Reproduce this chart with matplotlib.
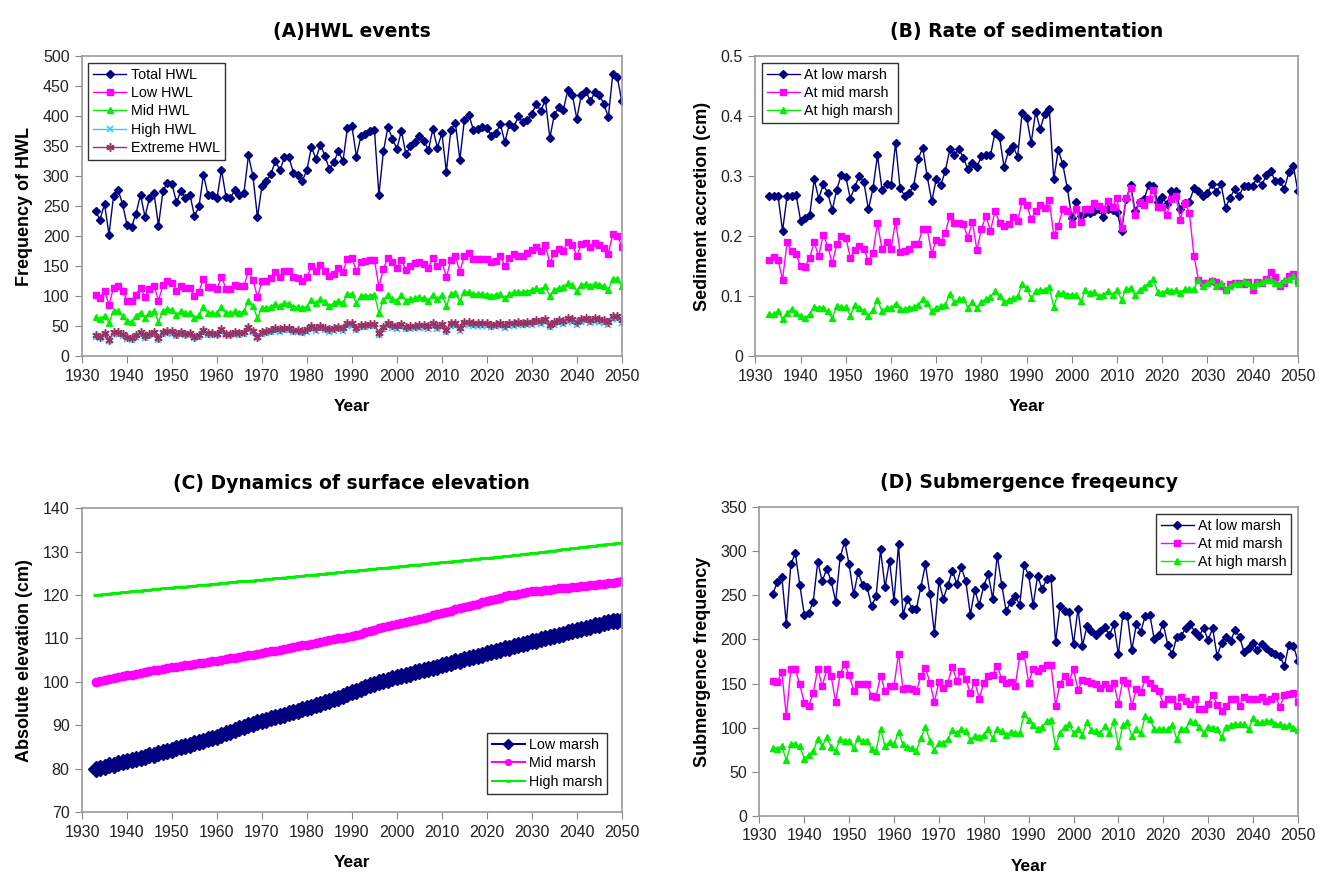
import matplotlib
matplotlib.use("Agg")
import matplotlib.pyplot as plt

plt.rcParams['font.family'] = ['Liberation Sans', 'DejaVu Sans']

years = list(range(1933, 2051))

# (A) HWL events
total_hwl = [242, 228, 254, 203, 267, 278, 254, 219, 215, 238,
             269, 233, 264, 272, 218, 276, 289, 287, 257, 276,
             264, 269, 234, 250, 303, 269, 269, 264, 311, 266,
             264, 278, 269, 273, 335, 300, 232, 284, 293, 304,
             326, 310, 332, 332, 306, 303, 293, 311, 349, 329,
             353, 334, 312, 324, 342, 325, 381, 384, 333, 367,
             371, 375, 378, 269, 342, 382, 363, 346, 376, 337,
             350, 357, 367, 359, 344, 379, 348, 372, 308, 378,
             389, 328, 394, 402, 378, 379, 382, 381, 368, 372,
             387, 357, 387, 382, 400, 390, 394, 404, 421, 409,
             428, 364, 403, 415, 411, 444, 436, 396, 436, 443,
             425, 441, 436, 421, 399, 471, 465, 425]
low_hwl = [103, 97, 109, 86, 114, 118, 109, 93, 92, 103,
           114, 99, 113, 118, 93, 119, 125, 123, 109, 117,
           114, 114, 100, 108, 129, 115, 115, 112, 132, 113,
           113, 119, 117, 117, 143, 128, 99, 125, 125, 131,
           140, 133, 142, 142, 132, 131, 125, 132, 150, 143,
           152, 142, 134, 137, 147, 141, 163, 164, 142, 158,
           159, 160, 161, 116, 146, 164, 158, 147, 161, 144,
           150, 156, 158, 154, 147, 164, 150, 158, 132, 161,
           167, 141, 168, 172, 163, 163, 163, 163, 157, 159,
           167, 151, 164, 171, 168, 168, 172, 178, 183, 176,
           185, 156, 173, 179, 176, 191, 185, 168, 187, 189,
           183, 189, 186, 181, 171, 204, 201, 183]
mid_hwl = [66, 62, 68, 56, 75, 76, 68, 59, 58, 67,
           73, 64, 73, 75, 58, 75, 79, 78, 69, 75,
           72, 72, 64, 69, 82, 73, 72, 72, 83, 72,
           72, 75, 73, 75, 93, 84, 64, 81, 81, 83,
           87, 84, 89, 88, 83, 82, 81, 83, 94, 89,
           96, 91, 84, 89, 93, 89, 104, 104, 89, 101,
           101, 101, 103, 72, 94, 103, 96, 93, 102, 93,
           96, 97, 99, 97, 93, 103, 96, 102, 84, 104,
           106, 92, 108, 107, 104, 104, 104, 103, 100, 103,
           104, 97, 104, 107, 108, 107, 108, 111, 114, 111,
           117, 100, 111, 114, 115, 122, 119, 109, 119, 121,
           118, 121, 119, 117, 111, 129, 129, 117]
high_hwl = [33, 30, 35, 26, 37, 38, 34, 29, 28, 32,
            37, 31, 35, 37, 28, 37, 39, 38, 34, 37,
            35, 36, 30, 33, 40, 36, 36, 35, 41, 35,
            35, 37, 36, 37, 45, 40, 31, 38, 39, 40,
            43, 41, 44, 44, 40, 40, 39, 41, 46, 43,
            47, 44, 41, 43, 45, 43, 50, 51, 44, 49,
            49, 50, 50, 36, 45, 50, 48, 46, 50, 45,
            46, 47, 48, 47, 46, 51, 46, 49, 40, 50,
            51, 43, 52, 53, 50, 51, 51, 51, 49, 50,
            51, 48, 51, 51, 53, 52, 52, 53, 56, 54,
            57, 49, 53, 55, 54, 58, 57, 52, 58, 59,
            56, 58, 58, 56, 53, 62, 62, 56]
extreme_hwl = [36, 33, 39, 28, 40, 41, 37, 32, 31, 35,
               40, 34, 38, 40, 31, 40, 42, 42, 37, 40,
               38, 39, 33, 36, 44, 39, 39, 38, 45, 38,
               38, 40, 39, 40, 49, 43, 33, 41, 42, 44,
               47, 45, 48, 48, 44, 44, 42, 45, 50, 47,
               51, 48, 45, 47, 49, 47, 55, 55, 48, 53,
               53, 54, 54, 39, 49, 55, 52, 50, 54, 49,
               50, 51, 53, 52, 50, 55, 50, 54, 44, 55,
               56, 47, 57, 58, 55, 55, 55, 55, 53, 54,
               56, 52, 56, 55, 58, 56, 57, 58, 61, 59,
               62, 53, 58, 60, 59, 64, 63, 57, 63, 64,
               61, 64, 63, 61, 58, 68, 67, 61]

# (B) Rate of sedimentation (cm)
sed_low = [.267, .267, .267, .209, .267, .267, .269, .226, .231, .235,
           .295, .263, .287, .272, .244, .278, .303, .299, .263, .283,
           .301, .290, .245, .280, .335, .278, .287, .285, .356, .280,
           .268, .272, .284, .329, .348, .300, .259, .295, .285, .309,
           .345, .335, .346, .331, .312, .323, .316, .334, .335, .335,
           .373, .365, .316, .342, .350, .333, .406, .398, .356, .408,
           .379, .404, .413, .295, .344, .320, .280, .231, .258, .234,
           .239, .239, .243, .245, .232, .245, .244, .241, .209, .262,
           .285, .243, .258, .262, .286, .284, .258, .266, .254, .275,
           .275, .245, .255, .258, .280, .276, .267, .272, .288, .274,
           .287, .248, .264, .279, .267, .284, .284, .284, .298, .285,
           .302, .309, .292, .292, .279, .307, .318, .275]
sed_mid = [.161, .166, .161, .128, .190, .175, .170, .150, .149, .164,
           .190, .167, .203, .183, .155, .187, .200, .198, .164, .178,
           .184, .179, .159, .173, .222, .179, .190, .179, .226, .174,
           .175, .179, .188, .188, .212, .212, .171, .194, .191, .206,
           .234, .223, .222, .220, .198, .224, .177, .213, .234, .209,
           .242, .223, .217, .220, .232, .225, .259, .253, .229, .242,
           .253, .248, .260, .202, .218, .245, .243, .220, .245, .224,
           .245, .246, .256, .251, .246, .259, .249, .264, .214, .264,
           .281, .236, .257, .252, .263, .277, .249, .249, .236, .262,
           .267, .228, .256, .239, .168, .128, .122, .122, .126, .124,
           .118, .111, .120, .122, .122, .121, .124, .110, .124, .122,
           .129, .140, .133, .117, .122, .134, .138, .125]
sed_high = [.070, .070, .075, .062, .073, .079, .072, .067, .064, .070,
            .082, .081, .081, .075, .064, .084, .082, .082, .068, .085,
            .081, .076, .067, .077, .094, .075, .081, .080, .088, .079,
            .079, .081, .082, .086, .095, .089, .075, .081, .084, .086,
            .104, .090, .095, .095, .081, .090, .081, .090, .096, .099,
            .109, .100, .091, .094, .097, .100, .120, .114, .097, .109,
            .111, .111, .116, .082, .106, .105, .103, .103, .103, .092,
            .110, .106, .107, .101, .103, .109, .103, .110, .094, .112,
            .114, .102, .111, .116, .122, .129, .107, .106, .110, .109,
            .110, .106, .112, .112, .112, .128, .118, .122, .127, .117,
            .122, .110, .117, .122, .121, .125, .122, .117, .122, .124,
            .128, .128, .122, .121, .127, .129, .134, .122]

# (C) Absolute elevation (cm)
elev_low = [80.0, 80.3, 80.5, 80.8, 81.0, 81.3, 81.5, 81.8, 82.0, 82.3,
            82.6, 82.8, 83.1, 83.3, 83.6, 83.9, 84.1, 84.4, 84.7, 85.0,
            85.3, 85.6, 85.9, 86.2, 86.5, 86.8, 87.1, 87.4, 87.8, 88.2,
            88.5, 88.9, 89.3, 89.7, 90.0, 90.4, 90.7, 91.0, 91.3, 91.6,
            91.9, 92.2, 92.5, 92.8, 93.1, 93.4, 93.7, 94.0, 94.3, 94.7,
            95.0, 95.4, 95.7, 96.1, 96.4, 96.8, 97.2, 97.6, 98.0, 98.4,
            98.8, 99.2, 99.6, 99.9, 100.2, 100.5, 100.8, 101.1, 101.3, 101.6,
            101.9, 102.2, 102.4, 102.7, 103.0, 103.3, 103.5, 103.8, 104.1, 104.4,
            104.7, 104.9, 105.2, 105.5, 105.8, 106.0, 106.3, 106.6, 106.9, 107.1,
            107.4, 107.7, 107.9, 108.2, 108.5, 108.7, 109.0, 109.3, 109.5, 109.8,
            110.1, 110.3, 110.6, 110.9, 111.1, 111.4, 111.7, 111.9, 112.2, 112.5,
            112.7, 113.0, 113.2, 113.5, 113.7, 113.9, 114.1, 114.3]
elev_mid = [100.0, 100.2, 100.4, 100.6, 100.9, 101.1, 101.3, 101.5, 101.7, 101.9,
            102.1, 102.3, 102.5, 102.7, 102.8, 103.0, 103.2, 103.4, 103.5, 103.7,
            103.8, 104.0, 104.1, 104.3, 104.4, 104.6, 104.7, 104.9, 105.1, 105.2,
            105.4, 105.6, 105.7, 105.9, 106.1, 106.3, 106.4, 106.6, 106.8, 107.0,
            107.2, 107.4, 107.6, 107.8, 108.0, 108.2, 108.4, 108.6, 108.8, 109.0,
            109.2, 109.4, 109.6, 109.8, 110.0, 110.1, 110.3, 110.5, 110.8, 111.1,
            111.4, 111.7, 112.0, 112.3, 112.6, 112.9, 113.2, 113.4, 113.6, 113.8,
            114.0, 114.3, 114.5, 114.8, 115.0, 115.3, 115.6, 115.8, 116.1, 116.4,
            116.7, 117.0, 117.2, 117.5, 117.8, 118.0, 118.3, 118.6, 118.9, 119.1,
            119.4, 119.7, 119.9, 120.1, 120.3, 120.4, 120.6, 120.8, 120.9, 121.0,
            121.1, 121.2, 121.3, 121.5, 121.6, 121.7, 121.8, 121.9, 122.0, 122.1,
            122.3, 122.4, 122.5, 122.6, 122.7, 122.8, 123.0, 123.1]
elev_high = [120.0, 120.1, 120.2, 120.3, 120.4, 120.5, 120.6, 120.7, 120.8, 120.9,
             121.0, 121.1, 121.2, 121.3, 121.4, 121.5, 121.6, 121.7, 121.8, 121.9,
             121.9, 122.0, 122.1, 122.2, 122.3, 122.4, 122.5, 122.6, 122.7, 122.8,
             122.9, 123.0, 123.1, 123.2, 123.2, 123.3, 123.4, 123.5, 123.6, 123.7,
             123.8, 123.9, 124.0, 124.1, 124.2, 124.3, 124.4, 124.5, 124.6, 124.7,
             124.8, 124.9, 125.0, 125.1, 125.2, 125.3, 125.4, 125.5, 125.6, 125.7,
             125.8, 125.9, 126.0, 126.1, 126.2, 126.3, 126.4, 126.5, 126.6, 126.7,
             126.8, 126.9, 127.0, 127.1, 127.2, 127.3, 127.4, 127.5, 127.6, 127.7,
             127.8, 127.9, 128.0, 128.1, 128.2, 128.3, 128.4, 128.5, 128.6, 128.7,
             128.8, 128.9, 129.0, 129.1, 129.2, 129.4, 129.5, 129.6, 129.7, 129.8,
             130.0, 130.1, 130.2, 130.3, 130.5, 130.6, 130.7, 130.8, 131.0, 131.1,
             131.2, 131.3, 131.5, 131.6, 131.7, 131.8, 131.9, 132.0]

# (D) Submergence frequency
sub_low = [252, 265, 271, 218, 285, 298, 262, 228, 230, 243,
           288, 266, 280, 266, 243, 293, 311, 285, 251, 276,
           262, 259, 238, 249, 302, 259, 289, 244, 308, 228,
           246, 235, 235, 260, 285, 251, 207, 266, 246, 262,
           278, 263, 282, 266, 228, 256, 239, 261, 274, 246,
           295, 262, 232, 243, 249, 239, 284, 273, 239, 272,
           257, 268, 270, 197, 238, 232, 231, 195, 235, 193,
           215, 210, 205, 210, 214, 205, 217, 183, 228, 227,
           188, 217, 209, 227, 228, 200, 205, 218, 194, 183,
           203, 204, 213, 217, 209, 204, 213, 199, 213, 181,
           196, 203, 198, 211, 203, 186, 190, 196, 188, 195,
           190, 186, 183, 181, 170, 194, 193, 176]
sub_mid = [153, 152, 163, 113, 166, 166, 149, 128, 125, 139,
           167, 147, 166, 158, 129, 161, 172, 160, 142, 150,
           150, 149, 136, 135, 159, 141, 147, 147, 184, 144,
           145, 144, 141, 159, 168, 151, 129, 152, 145, 151,
           169, 153, 164, 155, 139, 152, 133, 151, 158, 160,
           170, 155, 151, 152, 147, 181, 183, 151, 167, 164,
           168, 171, 171, 125, 150, 159, 152, 166, 143, 154,
           153, 151, 149, 145, 150, 145, 151, 127, 154, 151,
           124, 144, 140, 155, 151, 145, 142, 127, 132, 132,
           124, 135, 130, 127, 132, 121, 121, 127, 137, 126,
           119, 124, 132, 132, 125, 135, 132, 132, 132, 135,
           130, 132, 136, 123, 137, 138, 139, 129]
sub_high = [77, 76, 79, 63, 81, 81, 79, 65, 69, 73,
            87, 79, 89, 78, 74, 87, 85, 85, 77, 88,
            85, 85, 76, 74, 98, 79, 84, 81, 95, 81,
            78, 77, 74, 88, 101, 85, 75, 83, 83, 87,
            97, 94, 98, 96, 86, 91, 89, 92, 98, 88,
            99, 96, 92, 95, 94, 94, 115, 109, 103, 98,
            101, 107, 109, 79, 94, 101, 104, 94, 98, 92,
            106, 97, 96, 94, 102, 94, 107, 79, 103, 106,
            90, 98, 94, 113, 110, 98, 98, 98, 98, 103,
            87, 98, 99, 107, 106, 101, 94, 101, 100, 98,
            89, 101, 103, 104, 104, 104, 98, 111, 106, 106,
            107, 108, 104, 104, 102, 103, 100, 97]

navy = '#000080'
magenta = '#FF00FF'
green = '#00EE00'
cyan = '#33CCFF'
purple = '#993366'

fig = plt.figure(figsize=(13.23, 8.82), dpi=100)
axA = fig.add_axes([0.062, 0.596, 0.408, 0.340])
axB = fig.add_axes([0.571, 0.596, 0.410, 0.340])
axC = fig.add_axes([0.062, 0.079, 0.408, 0.345])
axD = fig.add_axes([0.574, 0.075, 0.407, 0.350])


def style(ax, title, ylabel, ylim, yticks, ylabels=None):
    ax.set_xlim(1930, 2050)
    ax.set_xticks(range(1930, 2051, 10))
    ax.set_ylim(*ylim)
    ax.set_yticks(yticks)
    if ylabels is not None:
        ax.set_yticklabels(ylabels)
    for s in ax.spines.values():
        s.set_color('#999999')
        s.set_linewidth(1.2)
    ax.tick_params(direction='out', length=5, color='#888888', labelsize=11.5,
                   labelcolor='#222222', pad=4)
    ax.set_title(title, fontsize=13.5, fontweight='bold', pad=14,
                 family='DejaVu Sans')
    ax.set_xlabel('Year', fontsize=12.5, fontweight='bold', labelpad=11)
    ax.set_ylabel(ylabel, fontsize=13, fontweight='bold', labelpad=7)


def legend(ax, loc, anchor=None, mscale=1.0):
    leg = ax.legend(loc=loc, bbox_to_anchor=anchor, fontsize=10.3, frameon=True,
                    fancybox=False, edgecolor='#333333', framealpha=1,
                    handlelength=2.3, labelspacing=0.3, borderpad=0.35,
                    handletextpad=0.3, borderaxespad=0.45, markerscale=mscale)
    leg.get_frame().set_linewidth(1)


# A
axA.plot(years, total_hwl, color=navy, lw=1, marker='D', ms=4.5, label='Total HWL')
axA.plot(years, low_hwl, color=magenta, lw=1, marker='s', ms=5, label='Low HWL')
axA.plot(years, mid_hwl, color=green, lw=1, marker='^', ms=5, label='Mid HWL')
axA.plot(years, high_hwl, color=cyan, lw=1, marker='x', ms=5, mew=1.2, label='High HWL')
axA.plot(years, extreme_hwl, color=purple, lw=1, marker=(6, 2, 0), ms=6, mew=1.1,
         label='Extreme HWL')
style(axA, '(A)HWL events', 'Frequency of HWL', (0, 500), range(0, 501, 50))
legend(axA, 'upper left')

# B
axB.plot(years, sed_low, color=navy, lw=1, marker='D', ms=4.5, label='At low marsh')
axB.plot(years, sed_mid, color=magenta, lw=1, marker='s', ms=5, label='At mid marsh')
axB.plot(years, sed_high, color=green, lw=1, marker='^', ms=5, label='At high marsh')
style(axB, '(B) Rate of sedimentation', 'Sediment accretion (cm)', (0, 0.5),
      [0, 0.1, 0.2, 0.3, 0.4, 0.5], ['0', '0.1', '0.2', '0.3', '0.4', '0.5'])
legend(axB, 'upper left')

# C
axC.plot(years, elev_low, color=navy, lw=1.5, marker='D', ms=8, label='Low marsh')
axC.plot(years, elev_mid, color=magenta, lw=1.5, marker='o', ms=6, label='Mid marsh')
axC.plot(years, elev_high, color=green, lw=1.5, marker='_', ms=5, mew=2, label='High marsh')
style(axC, '(C) Dynamics of surface elevation', 'Absolute elevation (cm)', (70, 140),
      range(70, 141, 10))
legend(axC, 'lower right', (0.985, 0.04), mscale=0.7)

# D
axD.plot(years, sub_low, color=navy, lw=1, marker='D', ms=4.5, label='At low marsh')
axD.plot(years, sub_mid, color=magenta, lw=1, marker='s', ms=5, label='At mid marsh')
axD.plot(years, sub_high, color=green, lw=1, marker='^', ms=5, label='At high marsh')
style(axD, '(D) Submergence freqeuncy', 'Submergence frequency', (0, 350),
      range(0, 351, 50))
legend(axD, 'upper right')

fig.savefig('out.png', dpi=100)
